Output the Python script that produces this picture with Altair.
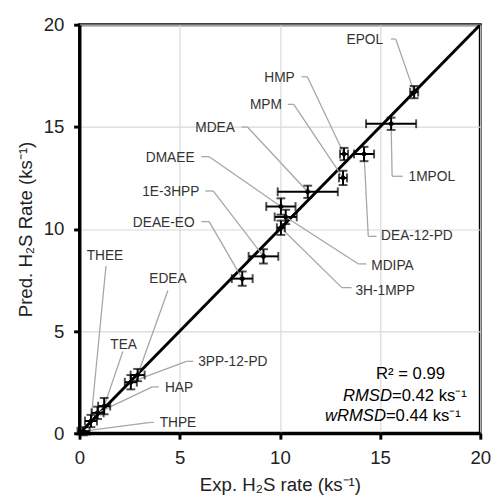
import altair as alt
import pandas as pd

# ---- data ----
names = ["EPOL", "1MPOL", "HMP", "DEA-12-PD", "MPM", "MDEA", "DMAEE", "MDIPA",
         "3H-1MPP", "1E-3HPP", "DEAE-EO", "EDEA", "3PP-12-PD", "TEA", "HAP",
         "THEE", "THPE"]
exp_rate = [16.7, 15.55, 13.2, 14.2, 13.15, 11.39, 10.05, 10.29,
            10.05, 9.18, 8.12, 2.9, 2.56, 1.23, 0.9, 0.57, 0.2]
pred_rate = [16.7, 15.15, 13.67, 13.67, 12.5, 11.82, 11.1, 10.59,
             10.06, 8.66, 7.57, 2.85, 2.5, 1.33, 1.0, 0.6, 0.1]
exp_err = [0.2, 1.25, 0.2, 0.5, 0.2, 1.5, 0.73, 0.55,
           0.2, 0.74, 0.52, 0.35, 0.3, 0.3, 0.3, 0.3, 0.3]
pred_err = [0.3, 0.3, 0.3, 0.35, 0.35, 0.3, 0.4, 0.35,
            0.35, 0.35, 0.35, 0.3, 0.35, 0.4, 0.3, 0.3, 0.2]

# label anchors (data units), alignment, leader start and elbow (data units)
label_x = [15.15, 16.42, 10.74, 15.05, 10.10, 7.75, 5.74, 14.56,
           13.77, 5.98, 5.74, 4.41, 5.92, 2.20, 4.26, 1.27, 4.00]
label_y = [19.23, 12.53, 17.40, 9.64, 16.05, 14.94, 13.49, 8.19,
           6.94, 11.81, 10.31, 7.57, 3.47, 4.34, 2.23, 8.67, 0.50]
label_align = ["right", "left", "right", "left", "right", "right", "right", "left",
               "left", "right", "right", "center", "left", "center", "left",
               "center", "left"]
lead_x1 = [15.54, 16.13, 11.08, 14.82, 10.39, 8.09, 6.08, 14.31,
           13.58, 6.27, 6.08, 4.41, 5.67, 2.16, 3.96, 1.32, 3.71]
lead_y1 = [19.30, 12.58, 17.45, 9.64, 16.10, 14.99, 13.54, 8.29,
           7.13, 11.86, 10.36, 6.99, 3.52, 4.00, 2.27, 8.19, 0.53]
lead_x2 = [15.78, 15.60, 11.37, 14.41, 10.69, 8.38, 6.47, 13.92,
           13.09, 6.67, 6.47, 4.41, 5.34, 2.16, 3.63, 1.32, 3.54]
lead_y2 = [19.30, 12.58, 17.45, 9.64, 16.10, 14.99, 13.54, 8.29,
           7.13, 11.86, 10.36, 6.99, 3.52, 4.00, 2.27, 8.19, 0.53]

stats_lines = ["R² = 0.99", "RMSD", "=0.42 ks⁻¹", "wRMSD", "=0.44 ks⁻¹"]
stats_x = [16.52, 15.59, 15.59, 15.29, 15.29]
stats_y = [2.89, 1.83, 1.83, 0.82, 0.82]

axis_ticks = [0, 5, 10, 15, 20]

df = pd.DataFrame({
    "name": names, "exp": exp_rate, "pred": pred_rate,
    "exp_lo": [e - d for e, d in zip(exp_rate, exp_err)],
    "exp_hi": [e + d for e, d in zip(exp_rate, exp_err)],
    "pred_lo": [p - d for p, d in zip(pred_rate, pred_err)],
    "pred_hi": [p + d for p, d in zip(pred_rate, pred_err)],
    "lx": label_x, "ly": label_y, "align": label_align,
    "x1": lead_x1, "y1": lead_y1, "x2": lead_x2, "y2": lead_y2,
})

FONT = "Liberation Sans"
xs = alt.Scale(domain=[0, 20], nice=False)
ys = alt.Scale(domain=[0, 20], nice=False)

xaxis = alt.Axis(values=axis_ticks, title="Exp. H₂S rate (ks⁻¹)", grid=True)
yaxis = alt.Axis(values=axis_ticks, title="Pred. H₂S Rate  (ks⁻¹)", grid=True)

base = alt.Chart(df)

# parity line
parity = alt.Chart(pd.DataFrame({"a": [0, 20]})).mark_line(
    color="black", strokeWidth=3, clip=True
).encode(
    x=alt.X("a:Q", scale=xs, axis=xaxis),
    y=alt.Y("a:Q", scale=ys, axis=yaxis),
)

lead_color = "#a6a6a6"
lead1 = base.mark_rule(color=lead_color, strokeWidth=1.3).encode(
    x="x1:Q", x2="x2:Q", y="y1:Q", y2="y2:Q")
lead2 = base.mark_rule(color=lead_color, strokeWidth=1.3).encode(
    x="x2:Q", x2="exp:Q", y="y2:Q", y2="pred:Q")

xerr = base.mark_rule(color="black", strokeWidth=2).encode(
    x="exp_lo:Q", x2="exp_hi:Q", y="pred:Q")
yerr = base.mark_rule(color="black", strokeWidth=2).encode(
    x="exp:Q", y="pred_lo:Q", y2="pred_hi:Q")
xcap_lo = base.mark_tick(color="black", orient="vertical", size=9, thickness=2).encode(
    x="exp_lo:Q", y="pred:Q")
xcap_hi = base.mark_tick(color="black", orient="vertical", size=9, thickness=2).encode(
    x="exp_hi:Q", y="pred:Q")
ycap_lo = base.mark_tick(color="black", orient="horizontal", size=9, thickness=2).encode(
    x="exp:Q", y="pred_lo:Q")
ycap_hi = base.mark_tick(color="black", orient="horizontal", size=9, thickness=2).encode(
    x="exp:Q", y="pred_hi:Q")

pts = base.mark_point(shape="diamond", filled=True, color="black", size=45, opacity=1).encode(
    x="exp:Q", y="pred:Q")

labels = []
for al in ["left", "right", "center"]:
    labels.append(
        base.transform_filter(alt.datum.align == al).mark_text(
            align=al, baseline="middle", font=FONT, fontSize=14, color="#333333"
        ).encode(x="lx:Q", y="ly:Q", text="name:N")
    )

sdf = pd.DataFrame({"t": stats_lines, "x": stats_x, "y": stats_y,
                    "kind": ["c", "i", "r", "i", "r"]})
sbase = alt.Chart(sdf)
s_c = sbase.transform_filter(alt.datum.kind == "c").mark_text(
    align="center", baseline="middle", font=FONT, fontSize=17, color="black"
).encode(x="x:Q", y="y:Q", text="t:N")
s_i = sbase.transform_filter(alt.datum.kind == "i").mark_text(
    align="right", baseline="middle", font=FONT, fontSize=17, fontStyle="italic", color="black"
).encode(x="x:Q", y="y:Q", text="t:N")
s_r = sbase.transform_filter(alt.datum.kind == "r").mark_text(
    align="left", baseline="middle", font=FONT, fontSize=17, color="black"
).encode(x="x:Q", y="y:Q", text="t:N")

chart = alt.layer(
    parity, lead1, lead2, xerr, yerr, xcap_lo, xcap_hi, ycap_lo, ycap_hi, pts,
    *labels, s_c, s_i, s_r
).properties(
    width=409, height=417,
    autosize=alt.AutoSizeParams(type="none"),
    padding={"left": 73, "top": 12, "right": 14, "bottom": 60},
).configure_view(
    stroke="black", strokeWidth=3
).configure_axis(
    domainColor="black", domainWidth=3, tickColor="black", tickWidth=3, tickSize=6,
    gridColor="#d9d9d9", gridWidth=1.2,
    labelFont=FONT, labelFontSize=19, labelColor="#222222", labelPadding=10,
    titleFont=FONT, titleFontSize=19, titleFontWeight="normal", titleColor="#222222",
    titlePadding=8, labelFlush=False,
)

chart.save("out.html", embed_options={"renderer": "svg", "actions": False})
